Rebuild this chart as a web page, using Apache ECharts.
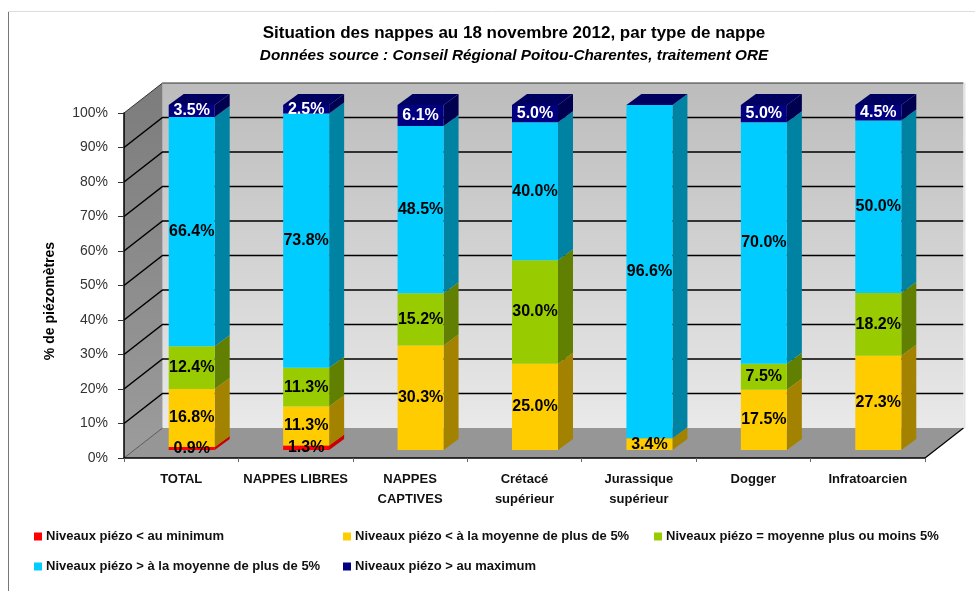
<!DOCTYPE html>
<html>
<head>
<meta charset="utf-8">
<title>Situation des nappes</title>
<style>
  html, body { margin: 0; padding: 0; background: #fff; }
  #chart { width: 975px; height: 591px; }
</style>
<script src="https://cdn.jsdelivr.net/npm/echarts@6/dist/echarts.min.js"></script>
</head>
<body>
<div id="chart"></div>
<script>
const categories = ["TOTAL", "NAPPES LIBRES", "NAPPES\nCAPTIVES", "Crétacé\nsupérieur", "Jurassique\nsupérieur", "Dogger", "Infratoarcien"];
const yTicks = [0, 10, 20, 30, 40, 50, 60, 70, 80, 90, 100];

const sousMinimum = [0.9, 1.3, 0, 0, 0, 0, 0];
const sousMoyenne = [16.8, 11.3, 30.3, 25.0, 3.4, 17.5, 27.3];
const moyenne = [12.4, 11.3, 15.2, 30.0, 0, 7.5, 18.2];
const surMoyenne = [66.4, 73.8, 48.5, 40.0, 96.6, 70.0, 50.0];
const surMaximum = [3.5, 2.5, 6.1, 5.0, 0, 5.0, 4.5];

const nomsSeries = [
  "Niveaux piézo < au minimum",
  "Niveaux piézo < à la moyenne de plus de 5%",
  "Niveaux piézo = moyenne plus ou moins 5%",
  "Niveaux piézo > à la moyenne de plus de 5%",
  "Niveaux piézo > au maximum",
];
const valeurs = [sousMinimum, sousMoyenne, moyenne, surMoyenne, surMaximum];
const couleurs = ["#ff0000", "#ffcc00", "#99cc00", "#00ccff", "#000080"];
const couleursCote = ["#c80000", "#a38200", "#617f00", "#0082a3", "#000050"];
const couleurDessus = "#000060";

// decalages de la perspective (plan avant -> plan des barres -> fond)
const barreDx = 10.5, barreDy = -8;
const profDx = 15, profDy = -11;
const fondDx = 38.5, fondDy = -30;
const largeurBarre = 46;

const fontTexte = '"Liberation Sans", Arial, sans-serif';

let chart = echarts.init(document.getElementById("chart"));

function poly(points, fill, extra) {
  return { type: "polygon", shape: { points }, style: { fill }, ...extra };
}

function dessinerFond(params, api) {
  const r = params.coordSys;
  const gauche = r.x, droite = r.x + r.width;
  const bas = api.coord([0, 0])[1], haut = api.coord([0, 100])[1];
  const children = [];

  children.push(poly(
    [[gauche + fondDx, haut + fondDy], [droite + fondDx, haut + fondDy], [droite + fondDx, bas + fondDy], [gauche + fondDx, bas + fondDy]],
    new echarts.graphic.LinearGradient(0, 0, 0, 1, [{ offset: 0, color: "#bcbcbc" }, { offset: 1, color: "#e9e9e9" }])
  ));
  children.push(poly(
    [[gauche, haut], [gauche + fondDx, haut + fondDy], [gauche + fondDx, bas + fondDy], [gauche, bas]],
    new echarts.graphic.LinearGradient(0, 0, 0, 1, [{ offset: 0, color: "#7c7c7c" }, { offset: 1, color: "#9c9c9c" }])
  ));
  children.push(poly(
    [[gauche, bas], [gauche + fondDx, bas + fondDy], [droite + fondDx, bas + fondDy], [droite, bas]],
    "#969696"
  ));

  yTicks.forEach((t) => {
    const y = api.coord([0, t])[1];
    if (t > 0) {
      children.push({
        type: "polyline",
        shape: { points: [[gauche, y], [gauche + fondDx, y + fondDy], [droite + fondDx, y + fondDy]] },
        style: { stroke: t === 100 ? "#333333" : "#000000", lineWidth: t === 100 ? 1 : 1.5, fill: null },
      });
    }
  });
  children.push({
    type: "line",
    shape: { x1: gauche, y1: bas, x2: gauche + fondDx, y2: bas + fondDy },
    style: { stroke: "#333333", lineWidth: 0.7 },
  });
  children.push({
    type: "line",
    shape: { x1: droite, y1: bas, x2: droite + fondDx, y2: bas + fondDy },
    style: { stroke: "#000000", lineWidth: 1.2 },
  });
  children.push({
    type: "line",
    shape: { x1: droite + fondDx + 1, y1: haut + fondDy, x2: droite + fondDx + 1, y2: bas + fondDy },
    style: { stroke: "#e4e4e4", lineWidth: 2 },
  });
  return { type: "group", children };
}

function rendreBarre(indexSerie) {
  return function (params, api) {
    const cat = api.value(0);
    const debut = api.value(1);
    const fin = api.value(2);
    const valeur = api.value(3);
    const x1 = api.coord([cat, 0])[0] + barreDx - largeurBarre / 2;
    const x2 = x1 + largeurBarre;
    const yBas = api.coord([cat, debut])[1] + barreDy;
    const yHaut = api.coord([cat, fin])[1] + barreDy;
    const children = [];

    if (valeur > 0) {
      children.push(poly([[x2, yBas], [x2, yHaut], [x2 + profDx, yHaut + profDy], [x2 + profDx, yBas + profDy]], couleursCote[indexSerie]));
      children.push({ type: "rect", shape: { x: x1, y: yHaut, width: largeurBarre, height: yBas - yHaut }, style: { fill: couleurs[indexSerie] } });
    }
    if (indexSerie === couleurs.length - 1) {
      children.push(poly([[x1, yHaut], [x2, yHaut], [x2 + profDx, yHaut + profDy], [x1 + profDx, yHaut + profDy]], couleurDessus));
    }
    if (valeur > 0) {
      children.push({
        type: "text",
        z2: 100,
        style: {
          text: valeur.toFixed(1) + "%",
          x: (x1 + x2) / 2,
          y: (yBas + yHaut) / 2,
          align: "center",
          verticalAlign: "middle",
          fill: indexSerie === couleurs.length - 1 ? "#ffffff" : "#000000",
          font: "bold 16px " + fontTexte,
        },
      });
    }
    return { type: "group", children };
  };
}

// empilement 100 % : chaque barre ramenee a son total
function construireDonnees(indexSerie) {
  return categories.map((_, cat) => {
    const total = valeurs.reduce((s, v) => s + v[cat], 0);
    let cumul = 0;
    for (let i = 0; i < indexSerie; i++) cumul += valeurs[i][cat];
    const v = valeurs[indexSerie][cat];
    return [cat, (cumul / total) * 100, ((cumul + v) / total) * 100, v];
  });
}

const seriesBarres = nomsSeries.map((nom, i) => ({
  name: nom,
  type: "custom",
  z: 3,
  itemStyle: { color: couleurs[i] },
  renderItem: rendreBarre(i),
  encode: { x: 0, y: [1, 2] },
  data: construireDonnees(i),
}));

const positionsLegende = [
  { left: 29, top: 525 },
  { left: 338, top: 525 },
  { left: 649, top: 525 },
  { left: 29, top: 555 },
  { left: 338, top: 555 },
];

chart.setOption({
  animation: false,
  title: {
    text: "Situation des nappes au 18 novembre 2012, par type de nappe",
    subtext: "Données source : Conseil Régional Poitou-Charentes, traitement ORE",
    left: 509,
    top: 20,
    textAlign: "center",
    itemGap: 6,
    textStyle: { fontFamily: fontTexte, fontWeight: "bold", fontSize: 17, color: "#000" },
    subtextStyle: { fontFamily: fontTexte, fontWeight: "bold", fontStyle: "italic", fontSize: 15.3, color: "#000" },
  },
  legend: nomsSeries.map((nom, i) => ({
    data: [nom],
    ...positionsLegende[i],
    orient: "horizontal",
    selectedMode: false,
    icon: "rect",
    itemWidth: 8,
    itemHeight: 8,
    itemGap: 0,
    textStyle: { fontFamily: fontTexte, fontWeight: "bold", fontSize: 13, color: "#111", padding: [0, 0, 0, -1] },
  })),
  grid: { left: 124, right: 50, top: 113, bottom: 133 },
  xAxis: {
    type: "category",
    data: categories,
    z: 5,
    axisLine: { lineStyle: { color: "#000", width: 1.5 } },
    axisTick: { show: true, alignWithLabel: false, length: 4, lineStyle: { color: "#666" } },
    axisLabel: { interval: 0, margin: 11, fontFamily: fontTexte, fontWeight: "bold", fontSize: 13, lineHeight: 20, color: "#111" },
  },
  yAxis: {
    type: "value",
    min: 0,
    max: 100,
    interval: 10,
    z: 5,
    axisLine: { show: true, lineStyle: { color: "#000", width: 1.5 } },
    axisTick: { show: true, length: 6, lineStyle: { color: "#333" } },
    splitLine: { show: false },
    axisLabel: { margin: 16, fontFamily: fontTexte, fontSize: 14, color: "#333", formatter: "{value}%" },
  },
  graphic: [
    { type: "line", silent: true, shape: { x1: 8.5, y1: 11, x2: 8.5, y2: 591 }, style: { stroke: "#777", lineWidth: 1 } },
    { type: "line", silent: true, shape: { x1: 8, y1: 11.5, x2: 975, y2: 11.5 }, style: { stroke: "#dddddd", lineWidth: 1 } },
    {
      type: "text",
      silent: true,
      x: 50,
      y: 301,
      rotation: Math.PI / 2,
      style: { text: "% de piézomètres", align: "center", verticalAlign: "middle", fill: "#000", font: "bold 14px " + fontTexte },
    },
  ],
  series: [
    {
      name: "fond",
      type: "custom",
      z: 1,
      silent: true,
      renderItem: dessinerFond,
      encode: { x: 0, y: 1 },
      data: [[0, 0]],
    },
    ...seriesBarres,
  ],
});
</script>
</body>
</html>
